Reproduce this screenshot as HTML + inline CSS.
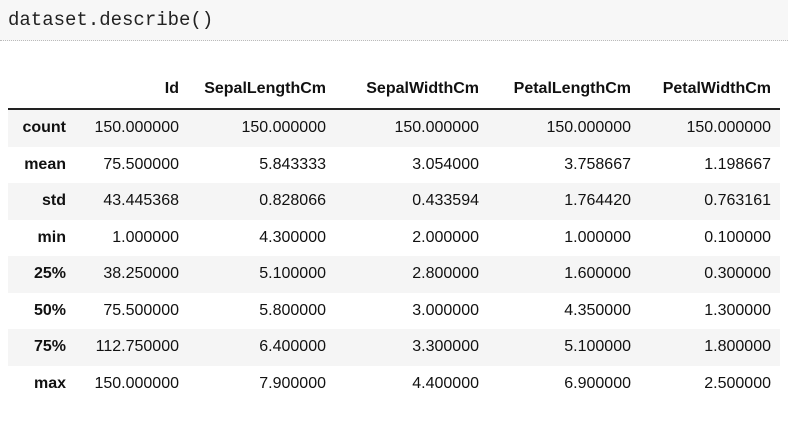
<!DOCTYPE html>
<html><head><meta charset="utf-8"><style>
body{margin:0;width:788px;height:432px;background:#fff;overflow:hidden;font-family:"Liberation Sans",Arial,sans-serif;position:relative}
#code{position:absolute;left:0;top:0;width:788px;height:40px;background:#f7f7f7;border-bottom:1px dotted #bbb}
#code span{position:absolute;left:8px;top:9px;font-family:"Liberation Mono",monospace;font-size:19px;color:#222}
#hdr-line{position:absolute;left:8px;width:772px;top:108px;height:2px;background:#222}
.row{position:absolute;left:8px;width:772px;height:36.5px}
.row.odd{background:#f5f5f5}
.c{position:absolute;top:0;line-height:36.5px;font-size:16px;color:#111;text-align:right;white-space:nowrap}
.h{font-weight:bold}
.idx{right:714px;text-align:right;font-weight:bold}
</style></head><body>
<div id="code"><span>dataset.describe()</span></div>
<div id="tbl"></div>
<div id="hdr-line"></div>
<script>
const columns=["Id","SepalLengthCm","SepalWidthCm","PetalLengthCm","PetalWidthCm"];
const stats=["count","mean","std","min","25%","50%","75%","max"];
const idVals=["150.000000","75.500000","43.445368","1.000000","38.250000","75.500000","112.750000","150.000000"];
const sepalLength=["150.000000","5.843333","0.828066","4.300000","5.100000","5.800000","6.400000","7.900000"];
const sepalWidth=["150.000000","3.054000","0.433594","2.000000","2.800000","3.000000","3.300000","4.400000"];
const petalLength=["150.000000","3.758667","1.764420","1.000000","1.600000","4.350000","5.100000","6.900000"];
const petalWidth=["150.000000","1.198667","0.763161","0.100000","0.300000","1.300000","1.800000","2.500000"];
const series=[idVals,sepalLength,sepalWidth,petalLength,petalWidth];
const rightEdges=[171,318,471,623,763];
const tbl=document.getElementById('tbl');
function cell(parent,text,right,cls){
  const d=document.createElement('div');
  d.className='c '+cls;
  d.style.right=(772-right)+'px';
  d.textContent=text;
  parent.appendChild(d);
  return d;
}
const hdr=document.createElement('div');
hdr.className='row';
hdr.style.top='71px';


columns.forEach((c,i)=>{
  const d=cell(hdr,c,rightEdges[i],'h');
  
  
});
tbl.appendChild(hdr);
stats.forEach((s,r)=>{
  const row=document.createElement('div');
  row.className='row'+(r%2===0?' odd':'');
  row.style.top=(110+r*36.5)+'px';
  
  
  const l=document.createElement('div');
  l.className='c idx';
  l.textContent=s;
  
  
  row.appendChild(l);
  series.forEach((vals,i)=>{
    const d=cell(row,vals[r],rightEdges[i],'');
    
    
  });
  tbl.appendChild(row);
});
</script>
</body></html>
